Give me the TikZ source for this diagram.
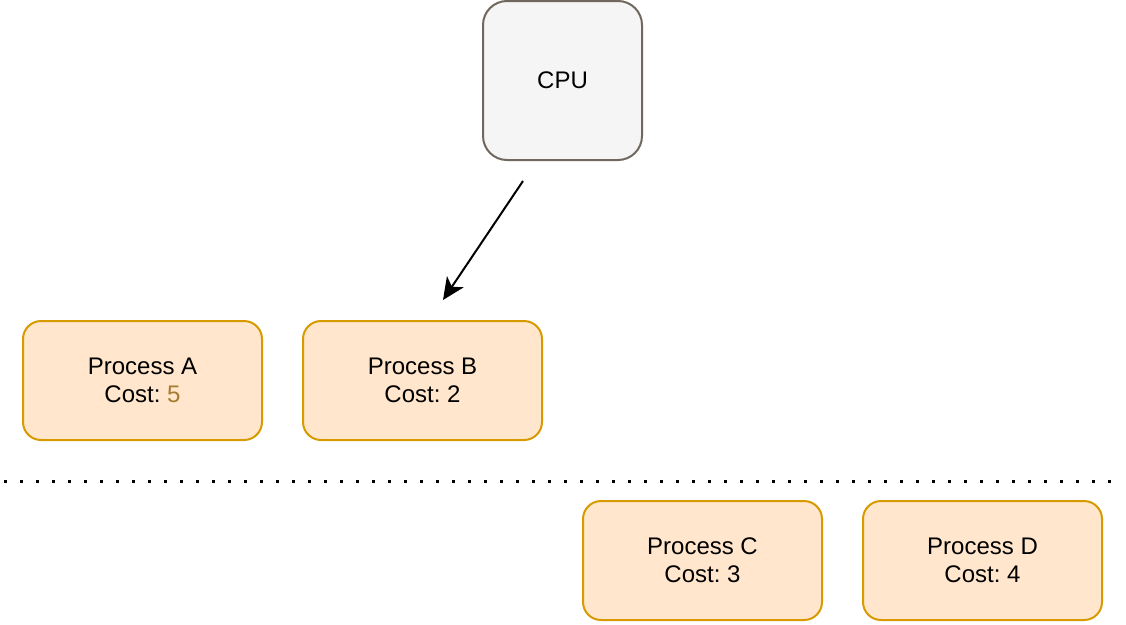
\documentclass[tikz,border=0pt]{standalone}
\usepackage{fontspec}
\setmainfont{Liberation Sans}
\usetikzlibrary{arrows.meta}
\frenchspacing
\definecolor{procfill}{HTML}{FFE6CC}
\definecolor{procdraw}{HTML}{D79B00}
\definecolor{cpufill}{HTML}{F5F5F5}
\definecolor{cpudraw}{HTML}{70685E}
\definecolor{costfive}{HTML}{A67C2E}
\tikzset{
  procbox/.style={draw=procdraw, fill=procfill, line width=2pt, rounded corners=18pt,
    minimum width=239pt, minimum height=119pt, align=center, inner sep=0pt,
    font=\fontsize{24}{28}\selectfont},
  cpubox/.style={draw=cpudraw, fill=cpufill, line width=2pt, rounded corners=24pt,
    minimum width=159pt, minimum height=159pt, inner sep=0pt,
    font=\fontsize{24}{28}\selectfont},
  arr/.style={line width=2pt, -{Stealth[length=22pt,width=20pt,inset=6pt]}},
  sep/.style={line width=3pt, dash pattern=on 3pt off 13pt}
}
\begin{document}
\begin{tikzpicture}[x=1pt,y=-1pt]
\useasboundingbox (0,0) rectangle (1126,624);
\node[cpubox] (cpu) at (562.5,80.5) {CPU};
\node[procbox] (pa) at (142.5,380.5) {Process A\\Cost: \textcolor{costfive}{5}};
\node[procbox] (pb) at (422.5,380.5) {Process B\\Cost: 2};
\node[procbox] (pc) at (702.5,560.5) {Process C\\Cost: 3};
\node[procbox] (pd) at (982.5,560.5) {Process D\\Cost: 4};
\coordinate (as) at (523,181);
\coordinate (ae) at (443,300);
\draw[arr] (as) -- (ae);
\coordinate (ls) at (4,481);
\coordinate (le) at (1124,481);
\draw[sep] (ls) -- (le);
\end{tikzpicture}
\end{document}
